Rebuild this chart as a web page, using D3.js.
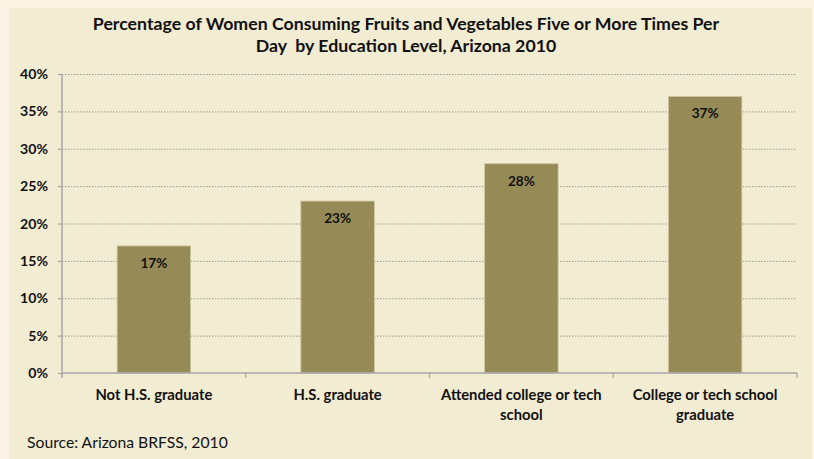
<!DOCTYPE html>
<meta charset="utf-8">
<style>
body { margin: 0; background: #fbf3e3; }
text { font-family: Lato, "Open Sans", sans-serif; fill: #111; }
.grid line { stroke: #9a9a9a; stroke-dasharray: 1.5,1.5; }
</style>
<svg width="814" height="459"></svg>
<script src="https://d3js.org/d3.v7.min.js"></script>
<script>

var categories = ["Not H.S. graduate", "H.S. graduate", "Attended college or tech school", "College or tech school graduate"];
var values = [17, 23, 28, 37];
var yTicks = [0, 5, 10, 15, 20, 25, 30, 35, 40];
var titleLines = ["Percentage of Women Consuming Fruits and Vegetables Five or More Times Per", "Day  by Education Level, Arizona 2010"];
var sourceText = "Source: Arizona BRFSS, 2010";

var svg = d3.select("svg"),
    margin = {top: 74, right: 17, bottom: 86, left: 62},
    width = +svg.attr("width") - margin.left - margin.right,
    height = +svg.attr("height") - margin.top - margin.bottom;

// make a text element as wide as it is in the original
function fit(sel, target) {
  var w = sel.node().getComputedTextLength();
  var fs = parseFloat(sel.style("font-size"));
  sel.style("font-size", (fs * target / w) + "px");
  return fs * target / w;
}

// chart panel
svg.append("rect")
    .attr("x", 9).attr("y", 8)
    .attr("width", 803).attr("height", 451)
    .attr("fill", "#f2ecd2");

var x = d3.scaleBand().domain(categories).range([0, width]).paddingInner(0.6).paddingOuter(0.3);
var y = d3.scaleLinear().domain([0, 40]).range([height, 0]);

var g = svg.append("g").attr("transform", "translate(" + margin.left + "," + margin.top + ")");

// dotted gridlines
g.append("g").attr("class", "grid")
  .selectAll("line")
  .data(yTicks.filter(function(d) { return d > 0; }))
  .enter().append("line")
    .attr("x1", 0).attr("x2", width)
    .attr("y1", function(d) { return y(d) + 0.5; })
    .attr("y2", function(d) { return y(d) + 0.5; });

// bars
g.selectAll(".bar")
  .data(values)
  .enter().append("rect")
    .attr("class", "bar")
    .attr("x", function(d, i) { return x(categories[i]); })
    .attr("y", function(d) { return y(d); })
    .attr("width", x.bandwidth())
    .attr("height", function(d) { return height - y(d); })
    .attr("fill", "#968b56")
    .attr("stroke", "#cfc7a2")
    .attr("stroke-width", 0.8);

// value labels
var vl = g.selectAll(".val")
  .data(values)
  .enter().append("text")
    .attr("class", "val")
    .attr("x", function(d, i) { return x(categories[i]) + x.bandwidth() / 2; })
    .attr("y", function(d) { return y(d) + 22; })
    .attr("text-anchor", "middle")
    .style("font-weight", "bold")
    .style("font-size", "13px")
    .text(function(d) { return d + "%"; });
var vs = fit(d3.select(vl.nodes()[0]), 27);
vl.style("font-size", vs + "px");

// y axis
var yAxis = g.append("g")
    .call(d3.axisLeft(y).tickValues(yTicks).tickFormat(function(d) { return d + "%"; }).tickSize(4).tickPadding(10));
yAxis.select(".domain").attr("stroke", "#a6a6a6").attr("stroke-width", 1.5).attr("d", "M0,0V" + (height + 5));
yAxis.selectAll(".tick line").attr("stroke", "#a6a6a6").attr("stroke-width", 1.2);
yAxis.selectAll("text").style("font-weight", "bold").style("font-size", "13px").attr("fill", "#111");
var ys = fit(yAxis.selectAll("text").filter(function(d) { return d === 40; }), 28);
yAxis.selectAll("text").style("font-size", ys + "px");

// x axis with ticks between the categories
var xg = g.append("g").attr("transform", "translate(0," + height + ")");
xg.append("line").attr("x1", 0).attr("x2", width)
    .attr("stroke", "#a6a6a6").attr("stroke-width", 1.5);
xg.selectAll(".xt")
  .data(d3.range(1, categories.length + 1))
  .enter().append("line")
    .attr("x1", function(i) { return width * i / categories.length; })
    .attr("x2", function(i) { return width * i / categories.length; })
    .attr("y1", 0).attr("y2", 5)
    .attr("stroke", "#a6a6a6").attr("stroke-width", 1.2);

var cl = xg.selectAll(".cat")
  .data(categories)
  .enter().append("text")
    .attr("class", "cat")
    .attr("x", function(d) { return x(d) + x.bandwidth() / 2; })
    .attr("y", 27)
    .attr("text-anchor", "middle")
    .style("font-weight", "bold")
    .style("font-size", "13px")
    .text(function(d) { return d; });
var cs = fit(d3.select(cl.nodes()[0]), 117);
cl.style("font-size", cs + "px");
cl.each(function(d) {
  var t = d3.select(this), words = d.split(" "), line = [], lines = [];
  t.text(null);
  var probe = t.append("tspan");
  words.forEach(function(w) {
    line.push(w);
    probe.text(line.join(" "));
    if (probe.node().getComputedTextLength() > 175 && line.length > 1) {
      line.pop();
      lines.push(line.join(" "));
      line = [w];
    }
  });
  lines.push(line.join(" "));
  probe.remove();
  lines.forEach(function(s, k) {
    t.append("tspan").attr("x", t.attr("x")).attr("dy", k ? 20 : 0).text(s);
  });
});

// title
var tl = svg.selectAll(".title")
  .data(titleLines)
  .enter().append("text")
    .attr("class", "title")
    .attr("x", 406)
    .attr("y", function(d, i) { return 30 + i * 22; })
    .attr("text-anchor", "middle")
    .style("white-space", "pre")
    .style("font-weight", "bold")
    .style("font-size", "18px")
    .text(function(d) { return d; });
var ts = fit(d3.select(tl.nodes()[0]), 627);
tl.style("font-size", ts + "px");

// source note
var src = svg.append("text")
    .attr("x", 27).attr("y", 448)
    .style("font-size", "15px")
    .text(sourceText);
fit(src, 201);

</script>
